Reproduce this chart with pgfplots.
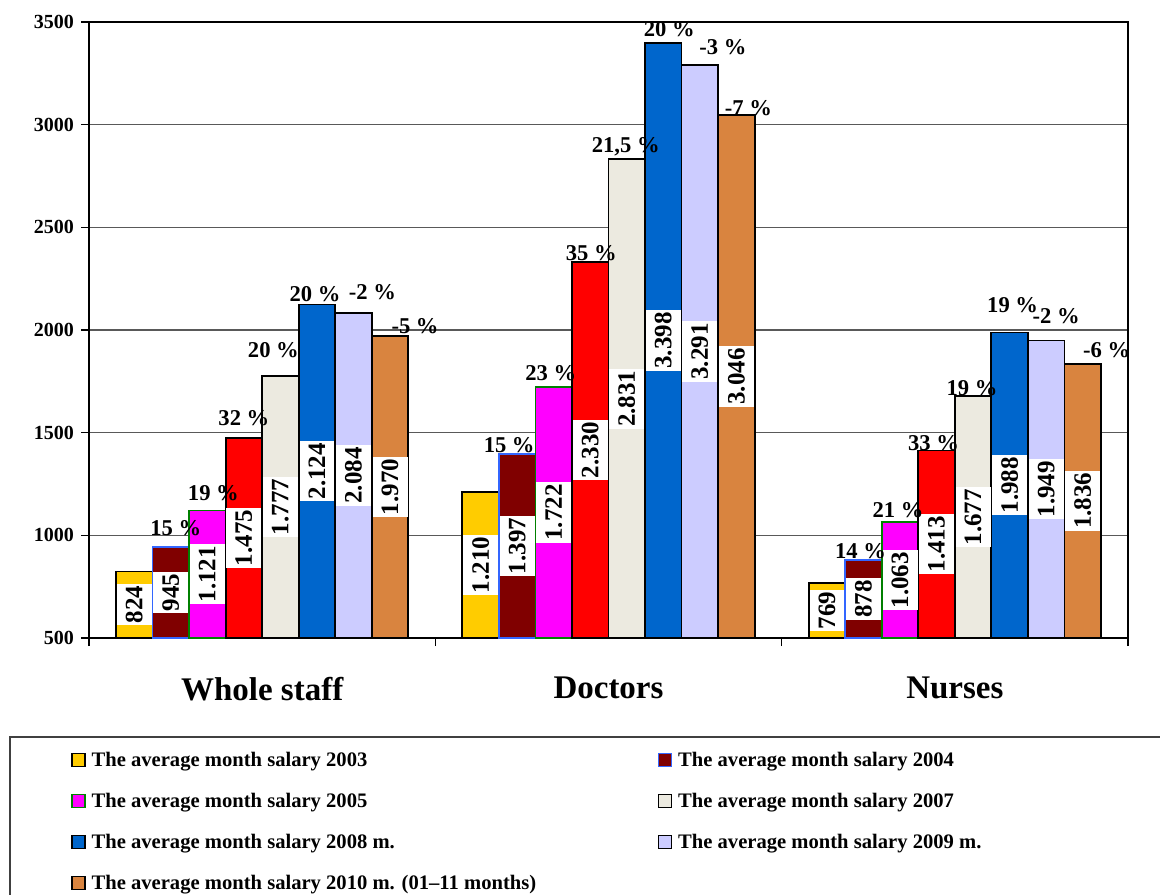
\documentclass[border=0pt]{standalone}
\usepackage{fontspec}
\setmainfont{Liberation Serif}
\usepackage{pgfplots}
\usepackage{pgfplotstable}
\pgfplotsset{compat=1.18}

\definecolor{c03}{HTML}{FFCC00}
\definecolor{c04}{HTML}{800000}
\definecolor{c05}{HTML}{FF00FF}
\definecolor{c06}{HTML}{FF0000}
\definecolor{c07}{HTML}{ECEAE0}
\definecolor{c08}{HTML}{0066CC}
\definecolor{c09}{HTML}{CCCCFF}
\definecolor{c10}{HTML}{D9843F}
\definecolor{e04}{HTML}{3366FF}
\definecolor{e05}{HTML}{008000}

% x = group + bar offset; y = salary; lab = printed value; pct = change; dx,dy = label shifts (pt)
\pgfplotstableread{
x y lab pct dx dy
-0.3692 824 824 0 0 0
0.6308 1210 1.210 0 0 0
1.6308 769 769 0 0 0
}\tA
\pgfplotstableread{
x y lab pct dx dy
-0.2637 945 945 15 2.5 5.8
0.7363 1397 1.397 15 -4 0.5
1.7363 878 878 14 -1.5 1
}\tB
\pgfplotstableread{
x y lab pct dx dy
-0.1582 1121 1.121 19 3 5.2
0.8418 1722 1.722 23 -1.5 3.5
1.8418 1063 1.063 21 -1 2.5
}\tC
\pgfplotstableread{
x y lab pct dx dy
-0.0527 1475 1.475 32 0 6.4
0.9473 2330 2.330 35 0.5 1
1.9473 1413 1.413 33 -1.5 0
}\tD
\pgfplotstableread{
x y lab pct dx dy
0.0527 1777 1.777 20 -3.5 8.9
1.0527 2831 2.831 21,5 -0.5 3.5
2.0527 1677 1.677 19 -0.5 0.5
}\tE
\pgfplotstableread{
x y lab pct dx dy
0.1582 2124 2.124 20 -1 1.5
1.1582 3398 3.398 20 3 3
2.1582 1988 1.988 19 1.5 10
}\tF
\pgfplotstableread{
x y lab pct dx dy
0.2637 2084 2.084 -2 9.5 6.5
1.2637 3291 3.291 -3 11.5 5
2.2637 1949 1.949 -2 5 8.5
}\tG
\pgfplotstableread{
x y lab pct dx dy
0.3692 1970 1.970 -5 12.5 1.5
1.3692 3046 3.046 -7 6 0
2.3692 1836 1.836 -6 12 3
}\tH

\pgfplotsset{
  sqlegend/.style={legend image code/.code={\draw[##1, line width=0.8pt] (0pt,-2.3pt) rectangle (6.5pt,4.2pt);}},
  barsty/.style={ybar, bar width=0.10549, bar shift=0pt, line width=0.9pt, sqlegend},
  vallab/.style={draw=none, forget plot, nodes near coords, point meta=explicit symbolic,
    nodes near coords style={anchor=center, rotate=90, fill=white, inner xsep=1pt, inner ysep=4.5pt,
      font=\fontsize{12.5}{13}\selectfont\bfseries, text=black}},
  pctlab/.style={draw=none, forget plot, point meta=explicit symbolic,
    visualization depends on={\thisrow{dx} \as \pdx},
    visualization depends on={\thisrow{dy} \as \pdy},
    nodes near coords={\pgfplotspointmeta\ \%},
    nodes near coords style={anchor=base, xshift=\pdx pt, yshift=\pdy pt,
      font=\fontsize{11.3}{12}\selectfont\bfseries, text=black}},
}

\begin{document}
\begin{tikzpicture}
\begin{axis}[
  at={(44.5pt,128pt)}, anchor=south west,
  scale only axis, width=519.5pt, height=308pt,
  xmin=-0.5, xmax=2.5, ymin=500, ymax=3500,
  axis line style={line width=1pt, black},
  xtick={-0.5,0.5,1.5,2.5}, xticklabels={,,,},
  extra x ticks={0,1,2},
  extra x tick labels={Whole staff,Doctors,Nurses},
  extra x tick style={major tick length=0pt,
    tick label style={font=\fontsize{16.5}{18}\selectfont\bfseries, yshift=-16pt}},
  ytick={500,1000,1500,2000,2500,3000,3500},
  yticklabels={500,1000,1500,2000,2500,3000,3500},
  yticklabel style={font=\fontsize{10}{12}\selectfont\bfseries},
  tick align=outside, major tick length=4pt,
  xtick pos=bottom, ytick pos=left,
  tick style={black, line width=0.6pt},
  ymajorgrids, grid style={black!65, line width=0.6pt},
  legend columns=2,
  legend cell align=left,
  legend style={
    at={(-0.01732,-0.1860)}, anchor=north west,
    draw=none, fill=none, inner sep=0pt, outer sep=0pt,
    row sep=11pt,
    font=\fontsize{10.3}{12}\selectfont\bfseries,
    nodes={inner sep=0pt, text height=7.2pt, text depth=2.3pt},
    /tikz/every odd column/.append style={column sep=3pt},
    /tikz/every even column/.append style={column sep=0pt},
  },
]
\addplot[barsty, fill=c03, draw=black] table[x=x,y=y]{\tA};
\addlegendentry{\makebox[283pt][l]{The average month salary 2003}}
\addplot[barsty, fill=c04, draw=e04] table[x=x,y=y]{\tB};
\addlegendentry{The average month salary 2004}
\addplot[barsty, fill=c05, draw=e05] table[x=x,y=y]{\tC};
\addlegendentry{\makebox[283pt][l]{The average month salary 2005}}
\addplot[barsty, fill=c06, draw=black, forget plot] table[x=x,y=y]{\tD};
\addplot[barsty, fill=c07, draw=black] table[x=x,y=y]{\tE};
\addlegendentry{The average month salary 2007}
\addplot[barsty, fill=c08, draw=black] table[x=x,y=y]{\tF};
\addlegendentry{\makebox[283pt][l]{The average month salary 2008 m.}}
\addplot[barsty, fill=c09, draw=black] table[x=x,y=y]{\tG};
\addlegendentry{The average month salary 2009 m.}
\addplot[barsty, fill=c10, draw=black] table[x=x,y=y]{\tH};
\addlegendentry{\makebox[283pt][l]{The average month salary 2010 m. (01--11 months)}}

% value labels in the middle of each bar
\addplot[vallab] table[x=x, y expr={(\thisrow{y}+500)/2}, meta=lab]{\tA};
\addplot[vallab] table[x=x, y expr={(\thisrow{y}+500)/2}, meta=lab]{\tB};
\addplot[vallab] table[x=x, y expr={(\thisrow{y}+500)/2}, meta=lab]{\tC};
\addplot[vallab] table[x=x, y expr={(\thisrow{y}+500)/2}, meta=lab]{\tD};
\addplot[vallab] table[x=x, y expr={(\thisrow{y}+500)/2}, meta=lab]{\tE};
\addplot[vallab] table[x=x, y expr={(\thisrow{y}+500)/2}, meta=lab]{\tF};
\addplot[vallab] table[x=x, y expr={(\thisrow{y}+500)/2}, meta=lab]{\tG};
\addplot[vallab] table[x=x, y expr={(\thisrow{y}+500)/2}, meta=lab]{\tH};

% percentage change labels above the bars
\addplot[pctlab] table[x=x, y=y, meta=pct]{\tB};
\addplot[pctlab] table[x=x, y=y, meta=pct]{\tC};
\addplot[pctlab] table[x=x, y=y, meta=pct]{\tD};
\addplot[pctlab] table[x=x, y=y, meta=pct]{\tE};
\addplot[pctlab] table[x=x, y=y, meta=pct]{\tF};
\addplot[pctlab] table[x=x, y=y, meta=pct]{\tG};
\addplot[pctlab] table[x=x, y=y, meta=pct]{\tH};
\end{axis}
\draw[black!75, line width=0.6pt] (5pt,-10pt) rectangle (600pt,78.5pt);
\pgfresetboundingbox
\path[use as bounding box] (0,0) rectangle (580pt,447pt);
\end{tikzpicture}
\end{document}
